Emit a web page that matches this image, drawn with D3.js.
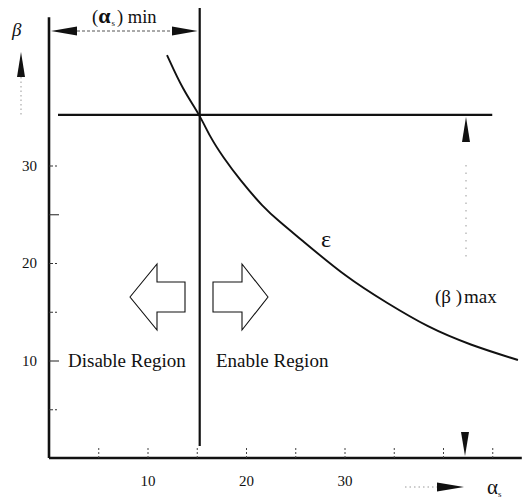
<!DOCTYPE html>
<html><head><meta charset="utf-8">
<script src="https://cdn.jsdelivr.net/npm/d3@7"></script>
<style>body{margin:0;background:#fff}svg{display:block}text{font-family:"Liberation Serif","Times New Roman",serif;fill:#111}</style>
</head><body><svg id="c" width="525" height="498"></svg>
<script>
const curveAlpha = [11.98, 13.60, 15.30, 16.35, 17.66, 19.39, 21.73, 23.45, 25.28, 30.25, 34.31, 38.38, 42.74, 47.61];
const curveBeta  = [41.33, 37.74, 35.20, 32.92, 30.87, 28.51, 25.74, 24.20, 22.67, 18.46, 15.90, 13.44, 11.59, 10.05];
const alphaMin = 15.3;
const betaMax = 35.2;
const xTicks = [5, 10, 15, 20, 25, 30, 35, 40, 45];
const xLabels = [10, 20, 30];
const yTicks = [5, 10, 15, 20, 25, 30];
const yLabels = [10, 20, 30];

const svg = d3.select("#c");
const x = d3.scaleLinear().domain([0, 48]).range([49, 521.8]);
const y = d3.scaleLinear().domain([0, 45]).range([458, 19.25]);
const ink = "#111";

// axes
const yAxis = d3.axisLeft(y).tickValues(yTicks).tickSizeInner(-10).tickSizeOuter(0).tickPadding(12)
  .tickFormat(d => yLabels.includes(d) ? d : "");
const gy = svg.append("g").attr("transform", `translate(${x(0)},0)`).call(yAxis);
gy.select(".domain").attr("d", `M0,${y(0)}V${y(45.2)}`).attr("stroke", ink).attr("stroke-width", 2.6);
gy.selectAll(".tick line").attr("stroke", "#333").attr("stroke-width", 1.1)
  .attr("stroke-dasharray", d => (d === 25 || d === 10) ? null : "4,2,2,2");
gy.selectAll(".tick text").attr("font-size", 15).attr("font-family", "Liberation Serif").attr("fill", ink);

const xAxis = d3.axisBottom(x).tickValues(xTicks).tickSizeInner(-10).tickSizeOuter(0).tickPadding(17)
  .tickFormat(d => xLabels.includes(d) ? d : "");
const gx = svg.append("g").attr("transform", `translate(0,${y(0)})`).call(xAxis);
gx.select(".domain").attr("d", `M${x(0)},0H${x(48)}`).attr("stroke", ink).attr("stroke-width", 2.6);
gx.selectAll(".tick line").attr("stroke", "#444").attr("stroke-width", 1).attr("stroke-dasharray", "2,2");
gx.selectAll(".tick text").attr("font-size", 15).attr("font-family", "Liberation Serif").attr("fill", ink);

// vertical alpha-min line
svg.append("line").attr("x1", x(alphaMin)).attr("x2", x(alphaMin)).attr("y1", 8).attr("y2", 446)
  .attr("stroke", ink).attr("stroke-width", 2.2);
// horizontal beta-max line
svg.append("line").attr("x1", 58).attr("x2", x(45.0)).attr("y1", y(betaMax)).attr("y2", y(betaMax))
  .attr("stroke", ink).attr("stroke-width", 2.2);

// curve
const pts = curveAlpha.map((a, i) => [a, curveBeta[i]]);
svg.append("path").datum(pts)
  .attr("d", d3.line().x(d => x(d[0])).y(d => y(d[1])).curve(d3.curveBasis))
  .attr("fill", "none").attr("stroke", ink).attr("stroke-width", 1.9);

function tri(p) { svg.append("path").attr("d", "M" + p.map(q => q.join(",")).join("L") + "Z").attr("fill", ink); }

// top dimension arrow
const ty = 31;
svg.append("line").attr("x1", 77).attr("x2", 172).attr("y1", ty).attr("y2", ty)
  .attr("stroke", "#555").attr("stroke-width", 1).attr("stroke-dasharray", "3,2");
tri([[51, ty], [77, ty - 4.5], [77, ty + 4.5]]);
tri([[x(alphaMin) - 2, ty], [172, ty - 4.5], [172, ty + 4.5]]);
const t1 = svg.append("text").attr("x", 92).attr("y", 23).attr("font-size", 18.5);
t1.append("tspan").text("(");
t1.append("tspan").text("α").attr("font-weight", "bold").attr("font-size", 22);
t1.append("tspan").text("s").attr("font-size", 9).attr("dy", 3).attr("dx", 1);
t1.append("tspan").text(") min").attr("dy", -3).attr("dx", 2);

// beta label with up arrow
svg.append("text").attr("x", 12).attr("y", 36).attr("font-size", 19).attr("font-style", "italic").text("β");
tri([[21, 52], [17, 77], [25, 77]]);
svg.append("line").attr("x1", 21).attr("x2", 21).attr("y1", 77).attr("y2", 115)
  .attr("stroke", "#999").attr("stroke-width", 1).attr("stroke-dasharray", "1.5,3");

// right beta max arrows
tri([[466, 117], [462, 142], [470, 142]]);
svg.append("line").attr("x1", 466).attr("x2", 466).attr("y1", 165).attr("y2", 262)
  .attr("stroke", "#999").attr("stroke-width", 1).attr("stroke-dasharray", "1.5,6");
tri([[465, 456], [461, 432], [469, 432]]);
const t2 = svg.append("text").attr("x", 435).attr("y", 303).attr("font-size", 19);
t2.append("tspan").text("(β )");
t2.append("tspan").text("max").attr("dx", 2);

// epsilon
svg.append("text").attr("x", 321).attr("y", 247).attr("font-size", 24).text("ε");

// alpha_s axis label with arrow
svg.append("line").attr("x1", 405).attr("x2", 437).attr("y1", 487).attr("y2", 487)
  .attr("stroke", "#999").attr("stroke-width", 1).attr("stroke-dasharray", "1.5,3");
tri([[464, 487], [437, 482.5], [437, 491.5]]);
const t3 = svg.append("text").attr("x", 487).attr("y", 494).attr("font-size", 21);
t3.append("tspan").text("α");
t3.append("tspan").text("s").attr("font-size", 9).attr("dy", 3);

// block arrows
const cy = 297;
svg.append("path").attr("d", `M130,${cy}L157,${cy-33}V${cy-15}H185V${cy+15}H157V${cy+33}Z`)
  .attr("fill", "#fff").attr("stroke", ink).attr("stroke-width", 1.1);
svg.append("path").attr("d", `M268,${cy}L242,${cy-33}V${cy-15}H213V${cy+15}H242V${cy+33}Z`)
  .attr("fill", "#fff").attr("stroke", ink).attr("stroke-width", 1.1);

// region labels
svg.append("text").attr("x", 68).attr("y", 367).attr("font-size", 19).text("Disable Region");
svg.append("text").attr("x", 216).attr("y", 367).attr("font-size", 19).text("Enable Region");
</script></body></html>
